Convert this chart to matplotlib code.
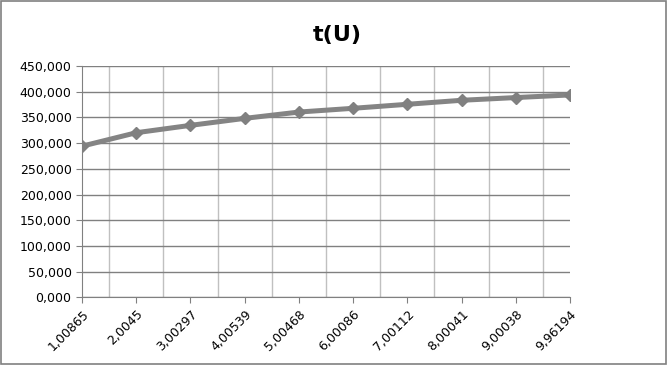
import numpy as np
import matplotlib.pyplot as plt
from matplotlib.patches import Rectangle
from matplotlib.ticker import FuncFormatter, MultipleLocator

u_labels = ["1,00865", "2,0045", "3,00297", "4,00539", "5,00468",
            "6,00086", "7,00112", "8,00041", "9,00038", "9,96194"]
t_values = [294100, 320300, 334600, 348200, 360500,
            367800, 375600, 383400, 388700, 393800]

fig = plt.figure(figsize=(6.68, 3.65), dpi=100)
fig.patch.set_facecolor("white")
fig.patches.append(Rectangle((0.001, 0.002), 0.996, 0.995, transform=fig.transFigure,
                             fill=False, edgecolor="#808080", linewidth=1.2))

ax = fig.add_axes([0.1228, 0.1855, 0.7305, 0.6335])
x = np.arange(len(u_labels))
ax.plot(x, t_values, color="#848484", linewidth=3.6, marker="D", markersize=6.5,
        markerfacecolor="#808080", markeredgecolor="#808080", zorder=5)

ax.set_xlim(0, len(u_labels) - 1)
ax.set_ylim(0, 450000)
ax.yaxis.set_major_locator(MultipleLocator(50000))
# Excel-style with comma decimal separator: 450000 -> "450,000"
ax.yaxis.set_major_formatter(FuncFormatter(lambda v, p: f"{v / 1000:.3f}".replace(".", ",")))
ax.set_xticks(x)
ax.set_xticklabels(u_labels, rotation=45, ha="right", rotation_mode="anchor", fontsize=9)
ax.set_xticks(x[:-1] + 0.5, minor=True)
ax.tick_params(axis="x", which="minor", length=0)
ax.tick_params(axis="both", which="major", direction="out", length=4, color="#808080",
               labelsize=9)

ax.grid(True, axis="y", which="major", color="#808080", linewidth=1)
ax.grid(True, axis="x", which="minor", color="#c0c0c0", linewidth=1)
ax.set_axisbelow(True)
for s in ["top", "right"]:
    ax.spines[s].set_visible(False)
for s in ["left", "bottom"]:
    ax.spines[s].set_color("#808080")

fig.text(0.505, 0.905, "t(U)", ha="center", va="center", fontsize=16, fontweight="bold")

fig.savefig("out.png", dpi=100)
